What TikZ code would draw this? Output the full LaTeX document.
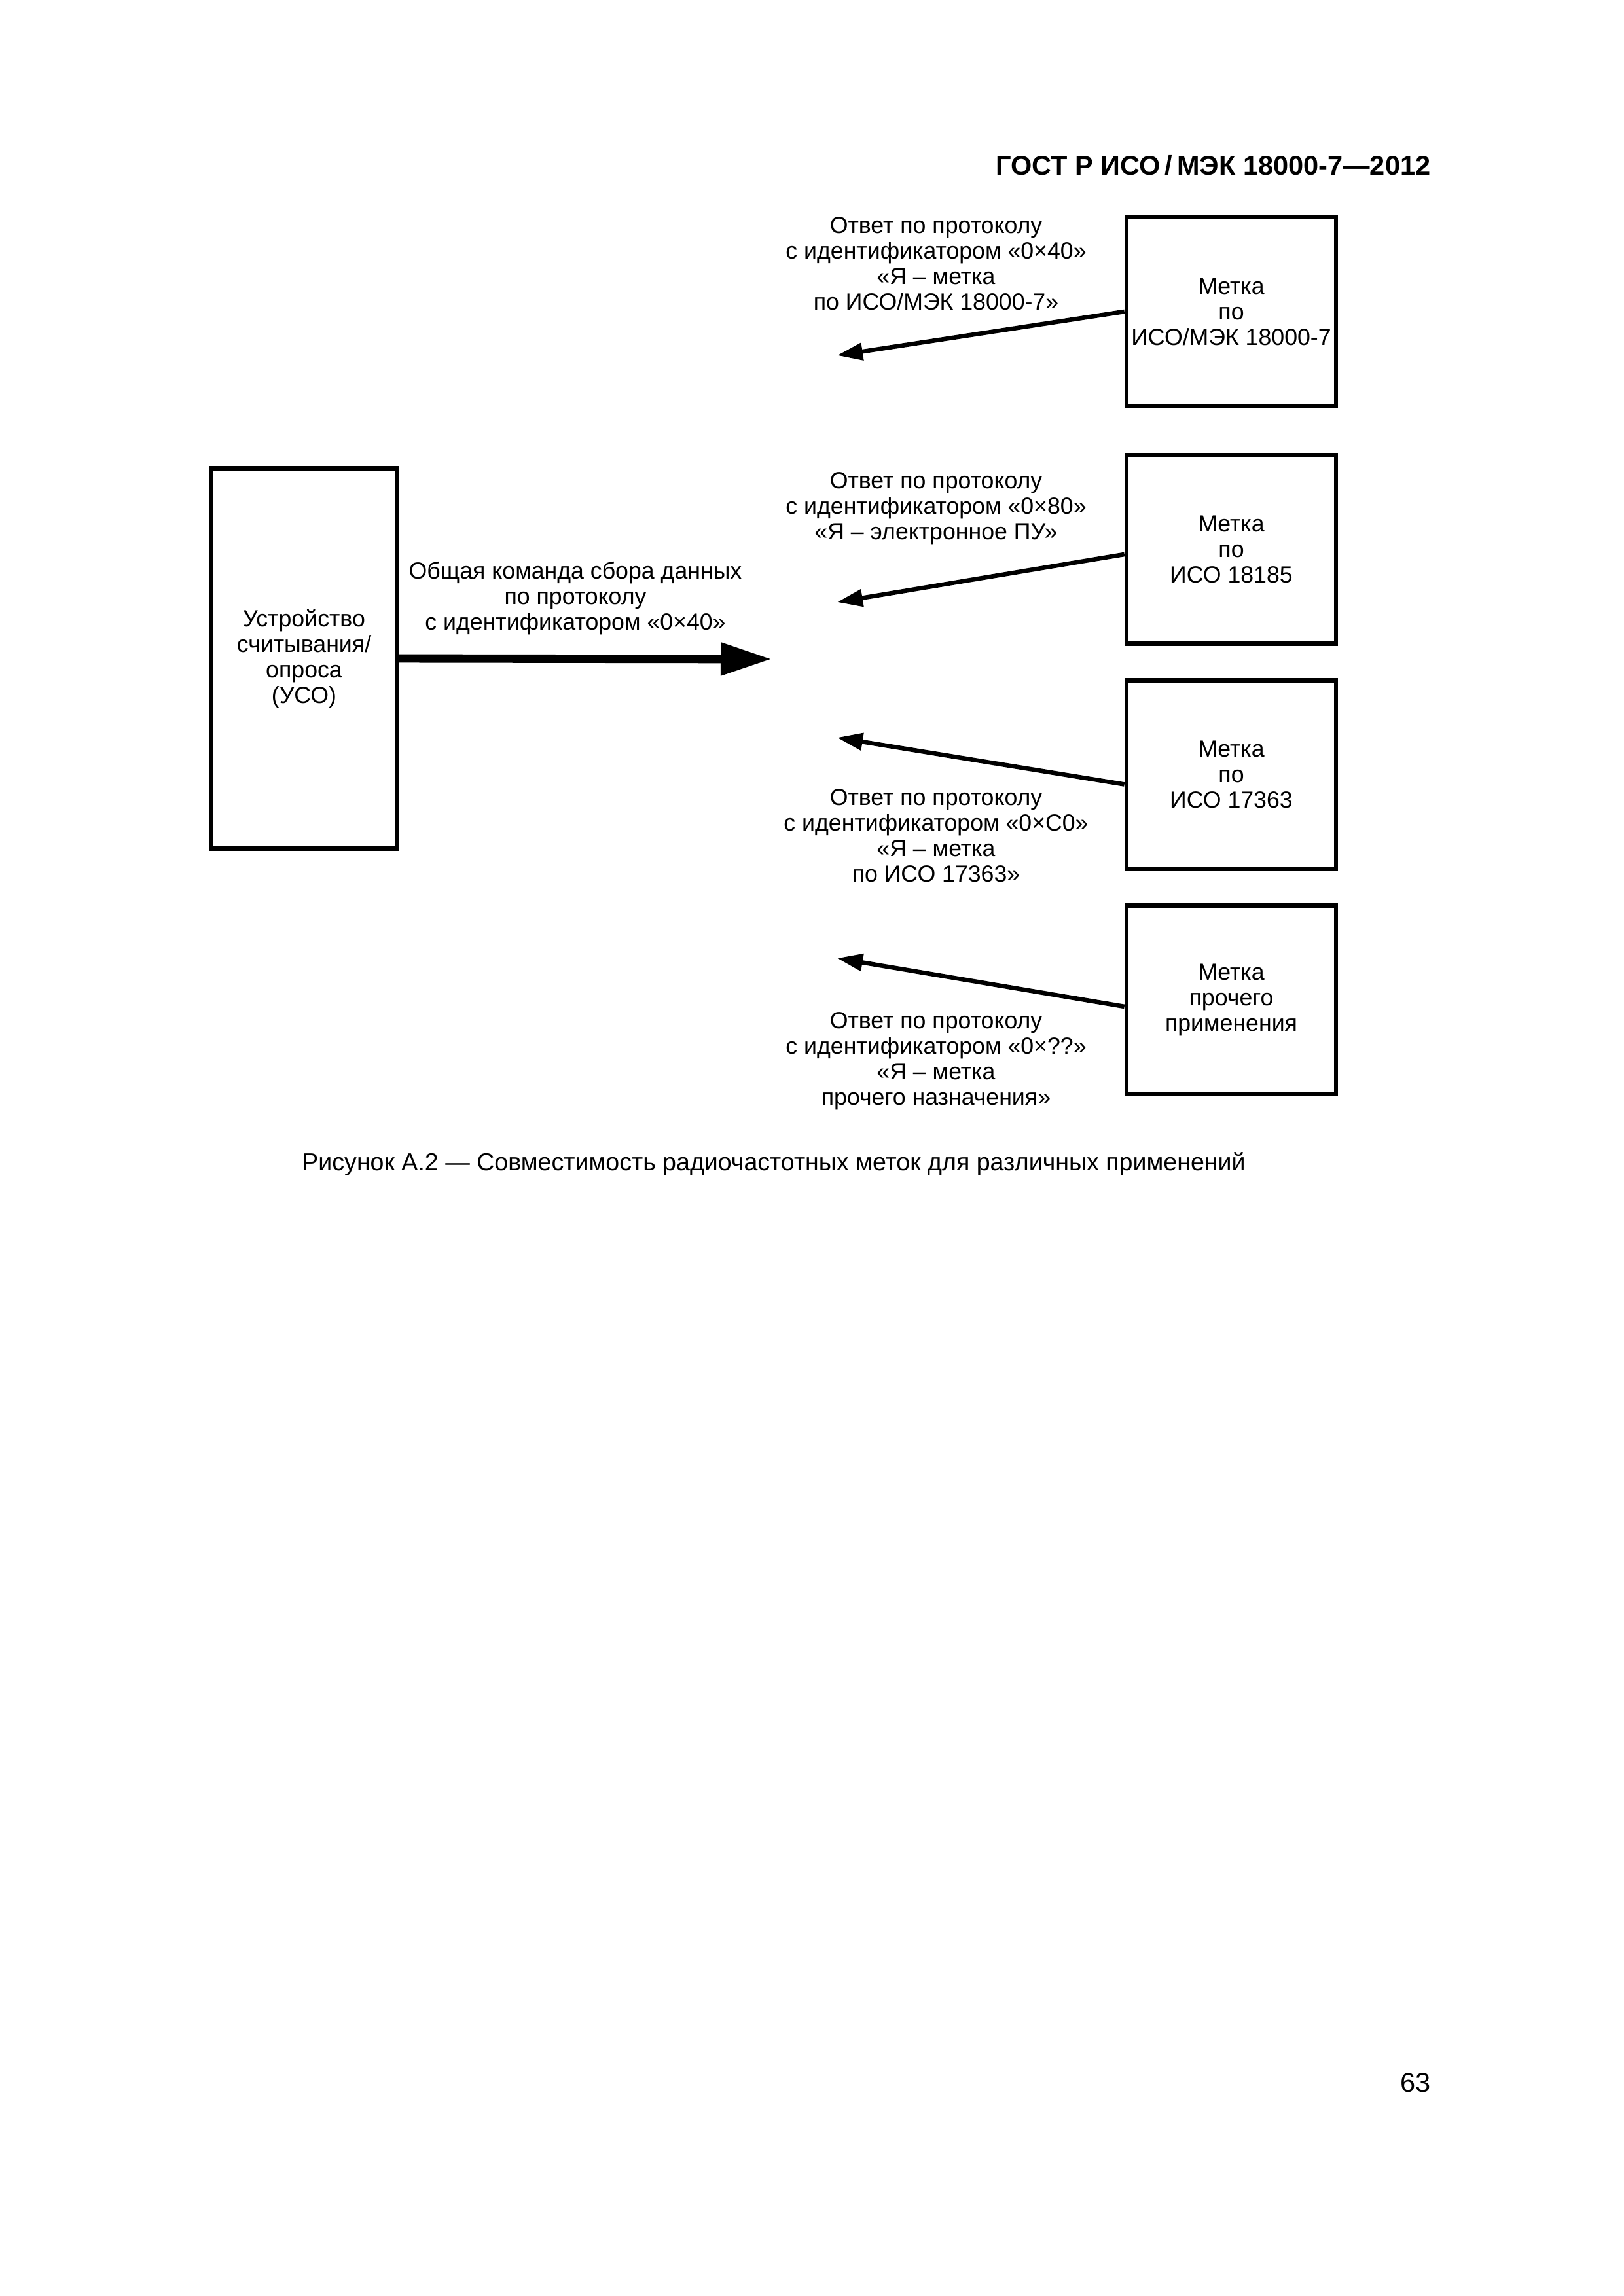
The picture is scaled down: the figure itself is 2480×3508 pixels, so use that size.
\documentclass[tikz,border=0pt]{standalone}
\usepackage{fontspec}
\setmainfont{Liberation Sans}
\usetikzlibrary{arrows.meta}
\newcommand{\lblfont}{\fontsize{8.6}{9.4}\selectfont}
\tikzset{
  box/.style={draw, line width=1.5pt, inner sep=0pt, align=center, font=\lblfont},
  tagbox/.style={box, minimum width=77.2pt, minimum height=69.4pt},
  readerbox/.style={box, minimum width=68.66pt, minimum height=139.96pt},
  lbl/.style={align=center, font=\lblfont},
  resp/.style={line width=1.6pt, -{Triangle[length=9.4pt, width=6.2pt]}},
  cmd/.style={line width=3.1pt, -{Triangle[length=18.8pt, width=11.5pt]}},
}
\begin{document}
\begin{tikzpicture}[x=0.0084667cm, y=-0.0084667cm]
      \useasboundingbox (0,0) rectangle (2480,3508);
      \draw
        (2200,267) node[anchor=base east, font=\fontsize{10}{12}\selectfont\bfseries] (title)
          {ГОСТ Р ИСО\,/\,МЭК 18000-7—2012}
        (464.5,1006) node[readerbox] (reader) {Устройство\\считывания/\\опроса\\(УСО)}
        (1881,476) node[tagbox] (tag1) {Метка\\по\\ИСО/МЭК 18000-7}
        (1881,839.5) node[tagbox] (tag2) {Метка\\по\\ИСО 18185}
        (1881,1183.5) node[tagbox] (tag3) {Метка\\по\\ИСО 17363}
        (1881,1527.5) node[tagbox] (tag4) {Метка\\прочего\\применения}
        (1430,403) node[lbl] (ans1) {Ответ по протоколу\\с идентификатором «0×40»\\«Я – метка\\по ИСО/МЭК 18000-7»}
        (1430,777) node[lbl] (ans2) {Ответ по протоколу\\с идентификатором «0×80»\\«Я – электронное ПУ»}
        (879,914) node[lbl] (cmdtext) {Общая команда сбора данных\\по протоколу\\с идентификатором «0×40»}
        (1430,1277) node[lbl] (ans3) {Ответ по протоколу\\с идентификатором «0×C0»\\«Я – метка\\по ИСО 17363»}
        (1430,1621) node[lbl] (ans4) {Ответ по протоколу\\с идентификатором «0×??»\\«Я – метка\\прочего назначения»}
        (1182,1788) node[anchor=base, font=\fontsize{9.05}{11}\selectfont] (caption)
          {Рисунок А.2 — Совместимость радиочастотных меток для различных применений}
        (2200,3196) node[anchor=base east, font=\fontsize{10}{12}\selectfont] (page) {63};
      \coordinate (cmdend) at (1179,1007);
      \coordinate (r1) at (1279,543);
      \coordinate (r2) at (1279,920);
      \coordinate (r3) at (1279,1127);
      \coordinate (r4) at (1279,1464);
      \draw[cmd] (reader.east) to (cmdend);
      \begin{scope}[resp]
        \draw (tag1.west) to (r1);
        \draw ([yshift=-1.8pt]tag2.west) to (r2);
        \draw ([yshift=-3.6pt]tag3.west) to (r3);
        \draw ([yshift=-2.5pt]tag4.west) to (r4);
      \end{scope}
    \end{tikzpicture}
\end{document}
